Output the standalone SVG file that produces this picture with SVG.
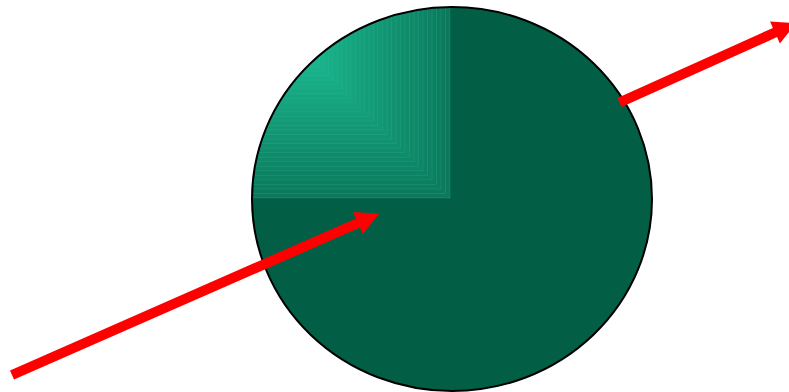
<svg xmlns="http://www.w3.org/2000/svg" width="789" height="392" viewBox="0 0 789 392">
<style>
.band{stroke:#2fbf97;stroke-opacity:0.35;stroke-width:0.7}
.arrow{fill:#ff0000;stroke:none}
</style>
<defs>
<clipPath id="ellClip"><ellipse cx="452" cy="199" rx="200" ry="192"/></clipPath>
</defs>
<rect width="789" height="392" fill="#ffffff"/>
<g id="sphere">
<ellipse cx="452" cy="199" rx="200" ry="192" fill="#035e46"/>
<g clip-path="url(#ellClip)">
<rect class="band" x="240" y="0" width="210" height="198" fill="#0C785C"/>
<rect class="band" x="240" y="0" width="205.5" height="193.5" fill="#0D7A5E"/>
<rect class="band" x="240" y="0" width="201" height="188.9" fill="#0D7C5F"/>
<rect class="band" x="240" y="0" width="196.5" height="184.4" fill="#0D7E61"/>
<rect class="band" x="240" y="0" width="192" height="179.9" fill="#0E8063"/>
<rect class="band" x="240" y="0" width="187.5" height="175.3" fill="#0E8264"/>
<rect class="band" x="240" y="0" width="183" height="170.8" fill="#0F8466"/>
<rect class="band" x="240" y="0" width="178.5" height="166.3" fill="#0F8768"/>
<rect class="band" x="240" y="0" width="174" height="161.7" fill="#108969"/>
<rect class="band" x="240" y="0" width="169.5" height="157.2" fill="#108B6B"/>
<rect class="band" x="240" y="0" width="165" height="152.7" fill="#118D6D"/>
<rect class="band" x="240" y="0" width="160.5" height="148.1" fill="#118F6E"/>
<rect class="band" x="240" y="0" width="156" height="143.6" fill="#129170"/>
<rect class="band" x="240" y="0" width="151.5" height="139.1" fill="#129372"/>
<rect class="band" x="240" y="0" width="147" height="134.5" fill="#139573"/>
<rect class="band" x="240" y="0" width="142.5" height="130" fill="#139775"/>
<rect class="band" x="240" y="0" width="138" height="125.5" fill="#149977"/>
<rect class="band" x="240" y="0" width="133.5" height="120.9" fill="#149B78"/>
<rect class="band" x="240" y="0" width="129" height="116.4" fill="#159D7A"/>
<rect class="band" x="240" y="0" width="124.5" height="111.9" fill="#159F7B"/>
<rect class="band" x="240" y="0" width="120" height="107.3" fill="#16A17D"/>
<rect class="band" x="240" y="0" width="115.5" height="102.8" fill="#16A37F"/>
<rect class="band" x="240" y="0" width="111" height="98.3" fill="#17A680"/>
<rect class="band" x="240" y="0" width="106.5" height="93.7" fill="#17A882"/>
<rect class="band" x="240" y="0" width="102" height="89.2" fill="#18AA84"/>
<rect class="band" x="240" y="0" width="97.5" height="84.7" fill="#18AC85"/>
<rect class="band" x="240" y="0" width="93" height="80.1" fill="#19AE87"/>
<rect class="band" x="240" y="0" width="88.5" height="75.6" fill="#19B089"/>
<rect class="band" x="240" y="0" width="84" height="71.1" fill="#1AB28A"/>
<rect class="band" x="240" y="0" width="79.5" height="66.5" fill="#1AB48C"/>
</g>
<ellipse cx="452" cy="199" rx="200" ry="192" fill="none" stroke="#000000" stroke-width="2"/>
</g>
<g id="connectors">
<polygon class="arrow" points="10.0,370.4 356.0,218.4 353.2,212.0 379.1,213.8 362.8,234.0 360.0,227.6 14.0,379.6"/>
<polygon class="arrow" points="617.4,97.9 772.9,27.9 770.1,21.6 796.0,23.1 779.9,43.4 777.1,37.1 621.6,107.1"/>
</g>
</svg>
